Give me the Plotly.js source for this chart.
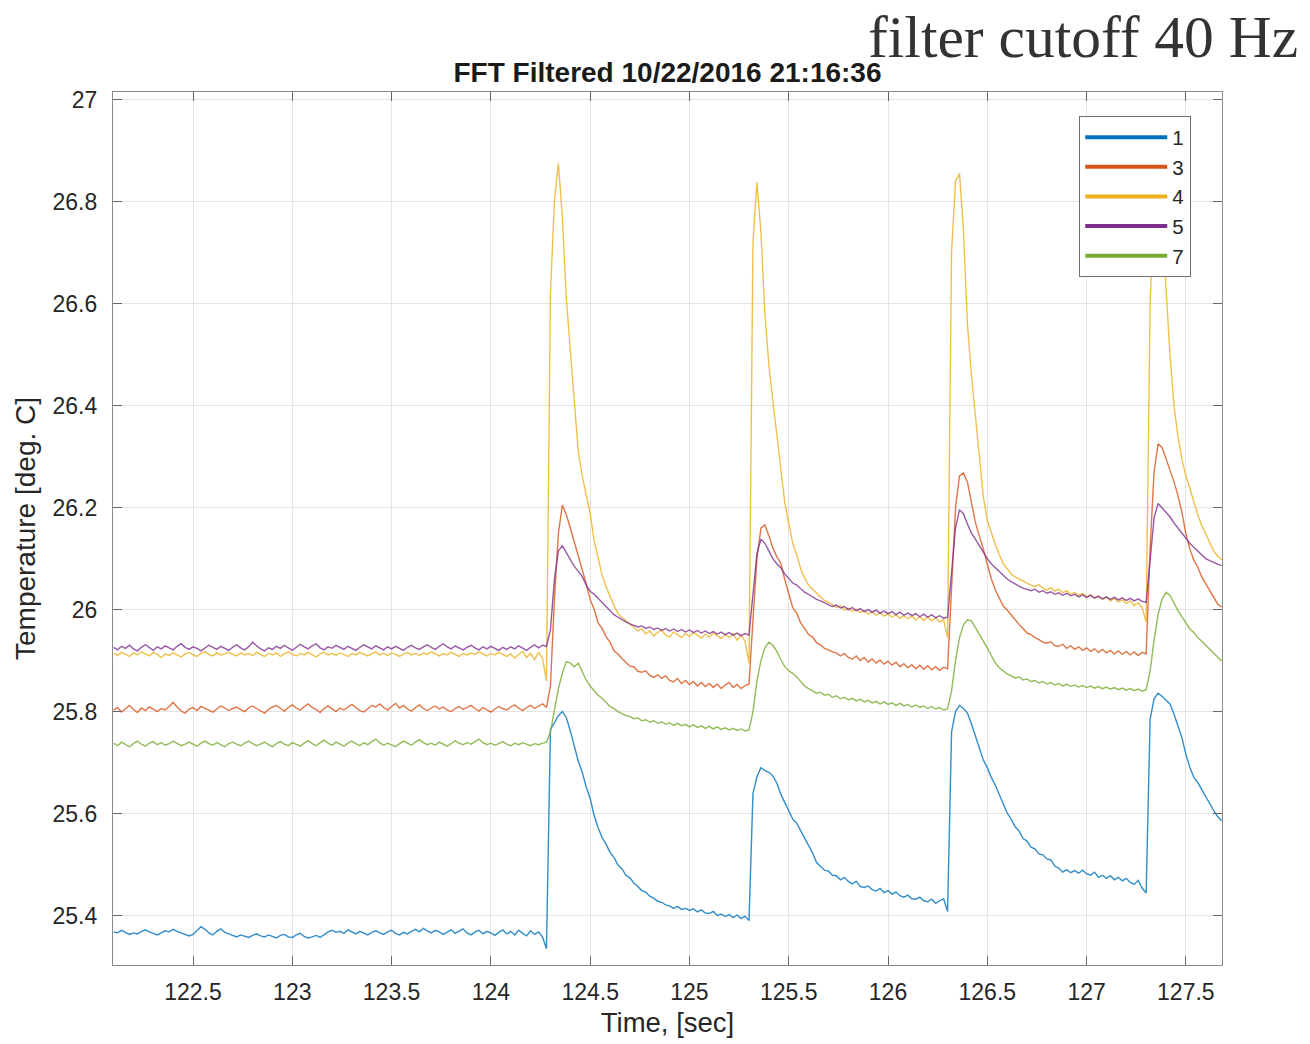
<!DOCTYPE html>
<html>
<head>
<meta charset="utf-8">
<script src="https://cdn.plot.ly/plotly-3.0.1.min.js"></script>
<style>
html, body { margin: 0; padding: 0; background: #ffffff; }
#chart { width: 1310px; height: 1044px; }
</style>
</head>
<body>
<div id="chart"></div>
<script>
// ---- sampling of the recorded signals (seconds) ----
const sampleStart = 122.10;
const sampleStep = 0.02;

// ---- legend / channel names ----
const channelNames = ['1', '3', '4', '5', '7'];

// ---- channel 1 (deg C) ----
const ch1 = [
  25.368, 25.366, 25.371, 25.367, 25.363, 25.366, 25.364, 25.369, 25.372, 25.368,
  25.365, 25.362, 25.366, 25.370, 25.368, 25.373, 25.369, 25.366, 25.364, 25.360,
  25.363, 25.371, 25.378, 25.373, 25.366, 25.362, 25.369, 25.374, 25.367, 25.364,
  25.361, 25.358, 25.362, 25.359, 25.357, 25.361, 25.364, 25.360, 25.358, 25.362,
  25.359, 25.356, 25.361, 25.363, 25.358, 25.357, 25.362, 25.365, 25.359, 25.356,
  25.358, 25.361, 25.357, 25.362, 25.368, 25.371, 25.367, 25.369, 25.365, 25.372,
  25.368, 25.364, 25.369, 25.366, 25.362, 25.367, 25.370, 25.366, 25.363, 25.368,
  25.371, 25.365, 25.362, 25.367, 25.364, 25.369, 25.373, 25.368, 25.375, 25.370,
  25.366, 25.371, 25.368, 25.363, 25.367, 25.372, 25.365, 25.369, 25.374, 25.366,
  25.362, 25.368, 25.371, 25.364, 25.369, 25.366, 25.361, 25.367, 25.372, 25.364,
  25.369, 25.362, 25.371, 25.365, 25.360, 25.370, 25.363, 25.368, 25.358, 25.335,
  25.765, 25.778, 25.792, 25.800, 25.788, 25.762, 25.730, 25.703, 25.681, 25.652,
  25.630, 25.596, 25.572, 25.553, 25.540, 25.524, 25.514, 25.499, 25.492, 25.479,
  25.474, 25.464, 25.457, 25.449, 25.446, 25.438, 25.434, 25.428, 25.426, 25.421,
  25.419, 25.414, 25.418, 25.412, 25.414, 25.410, 25.413, 25.407, 25.411, 25.405,
  25.404, 25.408, 25.400, 25.403, 25.398, 25.402, 25.396, 25.401, 25.394, 25.399,
  25.390,
  25.640, 25.672, 25.690, 25.684, 25.681, 25.674, 25.660, 25.638, 25.621, 25.606,
  25.589, 25.581, 25.566, 25.553, 25.537, 25.523, 25.504, 25.497, 25.489, 25.487,
  25.479, 25.478, 25.470, 25.475, 25.467, 25.462, 25.467, 25.457, 25.455, 25.458,
  25.451, 25.448, 25.453, 25.445, 25.449, 25.442, 25.446, 25.439, 25.436, 25.440,
  25.433, 25.432, 25.436, 25.429, 25.427, 25.432, 25.424, 25.429, 25.433, 25.408,
  25.760, 25.800, 25.812, 25.806, 25.797, 25.776, 25.751, 25.729, 25.705, 25.690,
  25.671, 25.656, 25.637, 25.619, 25.601, 25.589, 25.574, 25.566, 25.551, 25.546,
  25.534, 25.531, 25.521, 25.519, 25.511, 25.509, 25.497, 25.493, 25.485, 25.490,
  25.484, 25.488, 25.483, 25.489, 25.482, 25.479, 25.485, 25.475, 25.479, 25.473,
  25.478, 25.470, 25.475, 25.468, 25.473, 25.465, 25.461, 25.469, 25.454, 25.444,
  25.785, 25.825, 25.836, 25.830, 25.823, 25.815, 25.795, 25.772, 25.749, 25.716,
  25.691, 25.671, 25.661, 25.647, 25.633, 25.617, 25.606, 25.594, 25.586
];

// ---- channel 3 (deg C) ----
const ch3 = [
  25.803, 25.808, 25.799, 25.806, 25.812, 25.804, 25.798, 25.807, 25.802, 25.809,
  25.805, 25.800, 25.806, 25.803, 25.810, 25.818, 25.809, 25.801, 25.797, 25.805,
  25.808, 25.802, 25.810, 25.806, 25.803, 25.799, 25.805, 25.811, 25.807, 25.802,
  25.806, 25.809, 25.804, 25.800, 25.807, 25.811, 25.806, 25.802, 25.797, 25.804,
  25.809, 25.812, 25.806, 25.801, 25.808, 25.813, 25.807, 25.803, 25.810, 25.815,
  25.808, 25.804, 25.798, 25.806, 25.811, 25.805, 25.800, 25.807, 25.803, 25.809,
  25.814, 25.808, 25.802, 25.799, 25.806, 25.812, 25.809, 25.815, 25.808, 25.803,
  25.810, 25.816, 25.807, 25.812, 25.805, 25.801, 25.808, 25.813, 25.806, 25.802,
  25.807, 25.811, 25.805, 25.809, 25.803, 25.800, 25.806, 25.810, 25.804, 25.808,
  25.812, 25.806, 25.801, 25.808, 25.804, 25.799, 25.805, 25.810, 25.806, 25.803,
  25.809, 25.813, 25.807, 25.802, 25.808, 25.812, 25.806, 25.810, 25.815, 25.808,
  25.850, 26.020, 26.150, 26.205, 26.186, 26.160, 26.133, 26.101, 26.079, 26.051,
  26.019, 26.001, 25.974, 25.963, 25.947, 25.936, 25.919, 25.913, 25.904, 25.897,
  25.889, 25.888, 25.879, 25.877, 25.880, 25.871, 25.867, 25.872, 25.865, 25.870,
  25.861, 25.858, 25.865, 25.855, 25.861, 25.853, 25.859, 25.850, 25.857, 25.849,
  25.855, 25.847, 25.854, 25.845, 25.852, 25.857, 25.847, 25.853, 25.845, 25.851,
  25.854,
  25.980, 26.100, 26.160, 26.166, 26.145, 26.121, 26.104, 26.091, 26.059, 26.031,
  26.004, 25.993, 25.974, 25.963, 25.951, 25.946, 25.935, 25.931, 25.924, 25.921,
  25.917, 25.915, 25.909, 25.914, 25.906, 25.903, 25.909, 25.900, 25.906, 25.897,
  25.903, 25.895, 25.901, 25.893, 25.899, 25.891, 25.897, 25.888, 25.894, 25.886,
  25.892, 25.884, 25.891, 25.883, 25.890, 25.882, 25.888, 25.881, 25.887, 25.884,
  26.050, 26.200, 26.262, 26.268, 26.250, 26.212, 26.171, 26.144, 26.119, 26.089,
  26.061, 26.039, 26.023, 26.007, 25.999, 25.989, 25.981, 25.971, 25.963, 25.954,
  25.951, 25.945, 25.941, 25.936, 25.934, 25.937, 25.929, 25.928, 25.932, 25.924,
  25.929, 25.922, 25.927, 25.920, 25.925, 25.918, 25.923, 25.916, 25.922, 25.915,
  25.920, 25.913, 25.919, 25.912, 25.918, 25.911, 25.917, 25.910, 25.916, 25.913,
  26.120, 26.270, 26.325, 26.318, 26.296, 26.274, 26.251, 26.224, 26.191, 26.149,
  26.119, 26.097, 26.083, 26.064, 26.051, 26.037, 26.026, 26.011, 26.005
];

// ---- channel 4 (deg C) ----
const ch4 = [
  25.914, 25.910, 25.916, 25.912, 25.908, 25.915, 25.911, 25.917, 25.913, 25.909,
  25.916, 25.912, 25.906, 25.913, 25.910, 25.915, 25.911, 25.907, 25.913, 25.916,
  25.911, 25.908, 25.914, 25.917, 25.912, 25.909, 25.915, 25.911, 25.913, 25.916,
  25.912, 25.909, 25.915, 25.911, 25.914, 25.910, 25.916, 25.912, 25.908, 25.914,
  25.911, 25.915, 25.908, 25.913, 25.917, 25.912, 25.909, 25.914, 25.911, 25.916,
  25.912, 25.907, 25.913, 25.916, 25.911, 25.914, 25.910, 25.915, 25.912, 25.908,
  25.914, 25.911, 25.916, 25.912, 25.909, 25.913, 25.917, 25.911, 25.914, 25.910,
  25.915, 25.912, 25.908, 25.913, 25.916, 25.911, 25.914, 25.910, 25.915, 25.912,
  25.917, 25.913, 25.909, 25.914, 25.911, 25.916, 25.912, 25.908, 25.914, 25.911,
  25.915, 25.912, 25.917, 25.913, 25.909, 25.914, 25.911, 25.916, 25.912, 25.908,
  25.913, 25.905, 25.912, 25.918, 25.906, 25.914, 25.902, 25.916, 25.905, 25.860,
  26.620, 26.800, 26.875, 26.770, 26.610, 26.505, 26.405, 26.310, 26.262, 26.222,
  26.188, 26.135, 26.098, 26.068, 26.045, 26.025, 26.008, 25.992, 25.985, 25.978,
  25.972, 25.965, 25.958, 25.962, 25.952, 25.958, 25.948, 25.955, 25.960, 25.950,
  25.946, 25.956, 25.951, 25.945, 25.953, 25.947, 25.955, 25.949, 25.944, 25.952,
  25.946, 25.954, 25.948, 25.943, 25.951, 25.945, 25.953, 25.940, 25.950, 25.938,
  25.895,
  26.720, 26.838, 26.740, 26.580, 26.480, 26.410, 26.340, 26.270, 26.210, 26.170,
  26.130, 26.108, 26.080, 26.062, 26.048, 26.040, 26.032, 26.024, 26.018, 26.014,
  26.010, 26.004, 26.008, 25.999, 26.003, 25.996, 26.001, 25.994, 25.998, 25.991,
  25.996, 25.989, 25.994, 25.987, 25.992, 25.985, 25.990, 25.983, 25.988, 25.982,
  25.987, 25.980, 25.986, 25.979, 25.985, 25.978, 25.984, 25.976, 25.980, 25.945,
  26.700, 26.840, 26.855, 26.745, 26.560, 26.460, 26.385, 26.300, 26.222, 26.175,
  26.150, 26.128, 26.108, 26.090, 26.080, 26.070, 26.064, 26.060, 26.055, 26.052,
  26.048, 26.045, 26.049, 26.042, 26.038, 26.043, 26.036, 26.040, 26.033, 26.037,
  26.030, 26.034, 26.028, 26.032, 26.025, 26.029, 26.022, 26.027, 26.020, 26.024,
  26.017, 26.022, 26.015, 26.019, 26.012, 26.017, 26.008, 26.013, 26.004, 25.975,
  26.600, 26.800, 26.850, 26.760, 26.620, 26.500, 26.400, 26.340, 26.295, 26.262,
  26.238, 26.210, 26.186, 26.165, 26.148, 26.130, 26.115, 26.105, 26.098
];

// ---- channel 5 (deg C) ----
const ch5 = [
  25.926, 25.921, 25.928, 25.924, 25.930, 25.923, 25.919, 25.926, 25.931, 25.925,
  25.920, 25.927, 25.923, 25.929, 25.925, 25.921, 25.928, 25.933, 25.926, 25.922,
  25.927, 25.924, 25.919, 25.925, 25.930, 25.926, 25.922, 25.928, 25.924, 25.920,
  25.926, 25.931, 25.925, 25.921, 25.927, 25.936, 25.929, 25.923, 25.919, 25.925,
  25.922, 25.928, 25.924, 25.930, 25.925, 25.920, 25.926, 25.932, 25.927, 25.923,
  25.929, 25.933, 25.925, 25.921, 25.927, 25.924, 25.930, 25.926, 25.922, 25.928,
  25.924, 25.920, 25.926, 25.931, 25.927, 25.923, 25.929, 25.925, 25.921, 25.927,
  25.923, 25.928, 25.924, 25.920, 25.926, 25.930, 25.925, 25.922, 25.927, 25.931,
  25.926, 25.922, 25.928, 25.933, 25.927, 25.923, 25.929, 25.925, 25.921, 25.926,
  25.930, 25.925, 25.921, 25.927, 25.923, 25.928, 25.924, 25.920, 25.926, 25.922,
  25.927, 25.923, 25.929, 25.924, 25.920, 25.926, 25.931, 25.925, 25.930, 25.928,
  25.960, 26.060, 26.115, 26.125, 26.112, 26.100, 26.085, 26.075, 26.065, 26.048,
  26.036, 26.030, 26.022, 26.012, 26.005, 25.998, 25.990, 25.985, 25.980, 25.976,
  25.972, 25.969, 25.966, 25.968, 25.963, 25.966, 25.961, 25.964, 25.959, 25.963,
  25.958, 25.962, 25.957, 25.961, 25.956, 25.960, 25.955, 25.959, 25.954, 25.958,
  25.953, 25.957, 25.952, 25.956, 25.951, 25.955, 25.950, 25.954, 25.949, 25.953,
  25.950,
  26.030, 26.110, 26.138, 26.130, 26.115, 26.100, 26.090, 26.082, 26.070, 26.060,
  26.052, 26.048, 26.040, 26.034, 26.030, 26.025, 26.020, 26.017, 26.013, 26.010,
  26.006, 26.009, 26.003, 26.006, 26.000, 26.004, 25.998, 26.002, 25.996, 26.000,
  25.995, 25.999, 25.993, 25.997, 25.992, 25.996, 25.990, 25.995, 25.989, 25.993,
  25.988, 25.992, 25.986, 25.991, 25.985, 25.990, 25.984, 25.988, 25.983, 25.985,
  26.080, 26.160, 26.196, 26.188, 26.168, 26.150, 26.138, 26.125, 26.112, 26.100,
  26.090, 26.082, 26.074, 26.066, 26.060, 26.055, 26.050, 26.046, 26.042, 26.040,
  26.037, 26.040, 26.034, 26.037, 26.032, 26.035, 26.030, 26.033, 26.028, 26.032,
  26.027, 26.030, 26.025, 26.029, 26.024, 26.028, 26.023, 26.026, 26.021, 26.025,
  26.020, 26.024, 26.019, 26.023, 26.018, 26.022, 26.017, 26.021, 26.016, 26.014,
  26.100, 26.180, 26.208, 26.200, 26.190, 26.182, 26.170, 26.160, 26.150, 26.138,
  26.130, 26.122, 26.114, 26.108, 26.100, 26.096, 26.092, 26.089, 26.086
];

// ---- channel 7 (deg C) ----
const ch7 = [
  25.738, 25.733, 25.740, 25.736, 25.731, 25.737, 25.742, 25.736, 25.732, 25.738,
  25.741, 25.735, 25.739, 25.734, 25.737, 25.742, 25.738, 25.733, 25.736, 25.740,
  25.736, 25.732, 25.738, 25.742, 25.737, 25.734, 25.739, 25.735, 25.731, 25.737,
  25.740, 25.736, 25.733, 25.738, 25.742, 25.737, 25.733, 25.736, 25.740, 25.735,
  25.731, 25.737, 25.741, 25.736, 25.733, 25.739, 25.735, 25.732, 25.738, 25.743,
  25.737, 25.733, 25.739, 25.744, 25.738, 25.734, 25.740, 25.736, 25.732, 25.738,
  25.742, 25.737, 25.733, 25.739, 25.735, 25.741, 25.746, 25.739, 25.734, 25.738,
  25.735, 25.731, 25.737, 25.742, 25.738, 25.734, 25.740, 25.745, 25.739, 25.735,
  25.738, 25.734, 25.740, 25.736, 25.732, 25.737, 25.743, 25.738, 25.735, 25.739,
  25.736, 25.741, 25.746, 25.739, 25.735, 25.738, 25.734, 25.737, 25.741, 25.736,
  25.733, 25.738, 25.735, 25.739, 25.736, 25.733, 25.737, 25.735, 25.738, 25.740,
  25.760, 25.800, 25.845, 25.875, 25.898, 25.895, 25.888, 25.895, 25.878, 25.862,
  25.850, 25.840, 25.832, 25.826, 25.818, 25.810, 25.806, 25.800, 25.796, 25.792,
  25.790, 25.786, 25.788, 25.782, 25.784, 25.779, 25.782, 25.777, 25.780, 25.775,
  25.778, 25.773, 25.777, 25.772, 25.775, 25.770, 25.774, 25.769, 25.772, 25.767,
  25.771, 25.766, 25.770, 25.765, 25.768, 25.764, 25.767, 25.763, 25.766, 25.762,
  25.764,
  25.800, 25.860, 25.900, 25.925, 25.936, 25.930, 25.918, 25.902, 25.888, 25.880,
  25.875, 25.868, 25.858, 25.850, 25.845, 25.840, 25.836, 25.838, 25.832, 25.834,
  25.828, 25.831, 25.825, 25.828, 25.823, 25.826, 25.821, 25.824, 25.819, 25.822,
  25.817, 25.820, 25.815, 25.819, 25.814, 25.817, 25.812, 25.816, 25.811, 25.814,
  25.809, 25.813, 25.808, 25.811, 25.806, 25.810, 25.805, 25.808, 25.803, 25.805,
  25.840, 25.900, 25.945, 25.970, 25.980, 25.978, 25.965, 25.950, 25.938, 25.925,
  25.910, 25.896, 25.886, 25.880, 25.874, 25.870, 25.866, 25.868, 25.862, 25.864,
  25.859, 25.861, 25.856, 25.859, 25.854, 25.857, 25.852, 25.855, 25.850, 25.854,
  25.849, 25.852, 25.848, 25.851, 25.847, 25.850, 25.846, 25.849, 25.845, 25.848,
  25.844, 25.847, 25.843, 25.846, 25.842, 25.845, 25.841, 25.844, 25.840, 25.843,
  25.880, 25.940, 25.990, 26.020, 26.034, 26.028, 26.012, 25.998, 25.986, 25.975,
  25.962, 25.955, 25.945, 25.938, 25.930, 25.922, 25.914, 25.906, 25.899
];

// ---- tick labels ----
const xTickVals = [122.5, 123, 123.5, 124, 124.5, 125, 125.5, 126, 126.5, 127, 127.5];
const xTickText = ['122.5', '123', '123.5', '124', '124.5', '125', '125.5', '126', '126.5', '127', '127.5'];
const yTickVals = [25.4, 25.6, 25.8, 26, 26.2, 26.4, 26.6, 26.8, 27];
const yTickText = ['25.4', '25.6', '25.8', '26', '26.2', '26.4', '26.6', '26.8', '27'];

// ---- styling ----
const channelColors = ['#0072BD', '#D95319', '#EDB120', '#7E2F8E', '#77AC30'];
const series = [ch1, ch3, ch4, ch5, ch7];
const time = ch1.map((_, i) => +(sampleStart + i * sampleStep).toFixed(2));

const FONT = '"Liberation Sans", Arial, Helvetica, sans-serif';
const TXT = '#262626';

const traces = [];
series.forEach((vals, k) => {
  traces.push({
    type: 'scatter', mode: 'lines', x: time, y: vals,
    name: channelNames[k], showlegend: false,
    line: { color: channelColors[k], width: 1.4 }, opacity: 0.8,
    hoverinfo: 'x+y+name'
  });
});
// legend entries (thicker sample lines as in the original legend)
series.forEach((vals, k) => {
  traces.push({
    type: 'scatter', mode: 'lines', x: [null], y: [null],
    name: channelNames[k], showlegend: true, legendgroup: 'g' + k,
    line: { color: channelColors[k], width: 4 }, hoverinfo: 'skip'
  });
});

const axisCommon = {
  showline: true, mirror: 'allticks', linecolor: '#8a8a8a', linewidth: 1.3,
  ticks: 'inside', ticklen: 9, tickwidth: 1, tickcolor: '#666666',
  showgrid: true, gridcolor: '#e4e4e4', gridwidth: 1, zeroline: false,
  tickfont: { family: FONT, size: 23, color: TXT }
};

const layout = {
  width: 1310, height: 1044,
  paper_bgcolor: '#ffffff', plot_bgcolor: '#ffffff',
  margin: { l: 113, r: 88, t: 92, b: 79, pad: 0 },
  font: { family: FONT, color: TXT },
  title: {
    text: '<b>FFT Filtered 10/22/2016 21:16:36</b>',
    font: { family: FONT, size: 28, color: '#1a1a1a' },
    x: 0.5, xref: 'paper', xanchor: 'center',
    y: 1 - 72 / 1044, yref: 'container', yanchor: 'middle'
  },
  xaxis: Object.assign({}, axisCommon, {
    range: [122.097, 127.682], tickmode: 'array', tickvals: xTickVals, ticktext: xTickText,
    ticklabelstandoff: 6,
    title: { text: 'Time, [sec]', font: { family: FONT, size: 27.5, color: TXT }, standoff: 8 }
  }),
  yaxis: Object.assign({}, axisCommon, {
    range: [25.303, 27.015], tickmode: 'array', tickvals: yTickVals, ticktext: yTickText,
    ticklabelstandoff: 10,
    title: { text: 'Temperature [deg. C]', font: { family: FONT, size: 28, color: TXT }, standoff: 8 }
  }),
  showlegend: true,
  legend: {
    x: 0.871, y: 0.9725, xanchor: 'left', yanchor: 'top',
    bgcolor: '#ffffff', bordercolor: '#6e6e6e', borderwidth: 1.3,
    font: { family: FONT, size: 20.5, color: TXT },
    itemwidth: 82, tracegroupgap: 0, traceorder: 'normal'
  },
  annotations: [{
    text: 'filter cutoff 40 Hz', showarrow: false,
    xref: 'paper', yref: 'paper', x: (1300 - 113) / 1109, y: (965 - 37) / 873,
    xanchor: 'right', yanchor: 'middle',
    font: { family: '"Liberation Serif", "DejaVu Serif", serif', size: 59.5, color: '#333333' }
  }]
};

Plotly.newPlot('chart', traces, layout, { displayModeBar: false, responsive: false });
</script>
</body>
</html>
